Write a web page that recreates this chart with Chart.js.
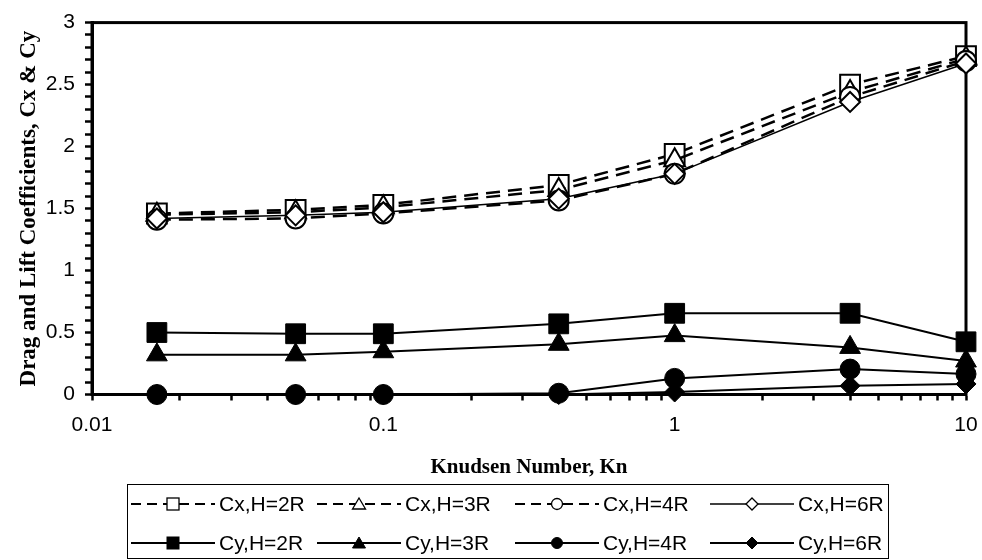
<!DOCTYPE html>
<html><head><meta charset="utf-8">
<script src="https://cdn.jsdelivr.net/npm/chart.js@4.4.0/dist/chart.umd.min.js"></script>
<style>
html,body{margin:0;padding:0;background:#fff;}
#wrap{position:relative;width:982px;height:560px;overflow:hidden;}
#c{position:absolute;left:0;top:0;}
#legend{position:absolute;left:127px;top:484px;width:762px;height:75px;border:1px solid #000;box-sizing:border-box;
 font-family:'Liberation Sans',Arial,sans-serif;font-size:21px;color:#000;
 display:grid;grid-template-columns:186px 198px 195px 176px;grid-template-rows:38px 40px;padding-left:3px;}
.item{display:flex;align-items:center;white-space:nowrap;}
.item svg{flex:none;margin-right:4px;}
</style></head>
<body>
<div id="wrap">
<canvas id="c" width="982" height="560"></canvas>
<div id="legend"></div>
</div>
<script>
// ---- data ----
const kn = [0.0167, 0.05, 0.1, 0.4, 1, 4, 10];
const cx2R = [1.46, 1.49, 1.53, 1.69, 1.94, 2.50, 2.73];
const cx3R = [1.45, 1.47, 1.51, 1.65, 1.89, 2.44, 2.71];
const cx4R = [1.41, 1.42, 1.46, 1.565, 1.78, 2.40, 2.69];
const cx6R = [1.42, 1.445, 1.47, 1.58, 1.78, 2.36, 2.67];
const cy2R = [0.50, 0.49, 0.49, 0.57, 0.655, 0.655, 0.425];
const cy3R = [0.32, 0.32, 0.345, 0.405, 0.475, 0.38, 0.27];
const cy4R = [0, 0, 0, 0.01, 0.13, 0.205, 0.165];
const cy6R = [0, 0, 0, 0, 0.02, 0.07, 0.085];
const seriesNames = ['Cx,H=2R','Cx,H=3R','Cx,H=4R','Cx,H=6R','Cy,H=2R','Cy,H=3R','Cy,H=4R','Cy,H=6R'];
const xTickLabels = ['0.01','0.1','1','10'];
const xTickValues = [0.01, 0.1, 1, 10];
const yTickLabels = ['0','0.5','1','1.5','2','2.5','3'];
const xTitle = 'Knudsen Number, Kn';
const yTitle = 'Drag and Lift Coefficients, Cx & Cy';

const seriesValues = [cx2R, cx3R, cx4R, cx6R, cy2R, cy3R, cy4R, cy6R];
const styles = [
  {dash:[14,8], shape:'rect',     fill:'#fff', r:14, lw:2.5, bw:2},
  {dash:[14,8], shape:'triangle', fill:'#fff', r:12, lw:2.5, bw:2},
  {dash:[14,8], shape:'circle',   fill:'#fff', r:10, lw:2.5, bw:2},
  {dash:[],     shape:'rectRot',  fill:'#fff', r:10, lw:1.5, bw:2},
  {dash:[],     shape:'rect',     fill:'#000', r:14, lw:2,   bw:1},
  {dash:[],     shape:'triangle', fill:'#000', r:12, lw:2,   bw:1},
  {dash:[],     shape:'circle',   fill:'#000', r:10, lw:2,   bw:1},
  {dash:[],     shape:'rectRot',  fill:'#000', r:10, lw:2,   bw:1}
];

const datasets = seriesValues.map((vals, k) => ({
  label: seriesNames[k],
  data: kn.map((x, i) => ({x: x, y: vals[i]})),
  borderColor: '#000',
  borderWidth: styles[k].lw,
  borderDash: styles[k].dash,
  pointStyle: styles[k].shape,
  pointRadius: styles[k].r,
  pointBackgroundColor: styles[k].fill,
  pointBorderColor: '#000',
  pointBorderWidth: styles[k].bw,
  pointHoverRadius: styles[k].r,
  fill: false,
  tension: 0,
  clip: false,
  order: (k < 4 ? 20 : 10) - k
}));

const framePlugin = {
  id: 'frame',
  beforeDatasetsDraw(chart) {
    const {ctx, chartArea: a} = chart;
    ctx.save();
    ctx.strokeStyle = '#000';
    ctx.lineWidth = 3;
    ctx.strokeRect(a.left, a.top, a.right - a.left, a.bottom - a.top);
    ctx.restore();
  }
};

const minorTicks = [];
[-2, -1, 0].forEach(e => { for (let m = 1; m <= 9; m++) minorTicks.push(Number((m * Math.pow(10, e)).toPrecision(6))); });
minorTicks.push(10);

new Chart(document.getElementById('c'), {
  type: 'line',
  data: {datasets},
  options: {
    responsive: false,
    animation: false,
    devicePixelRatio: 1,
    layout: {padding: {left: 15, top: 18, right: 15, bottom: 79.5}},
    plugins: {legend: {display: false}, tooltip: {enabled: false}},
    events: [],
    scales: {
      x: {
        type: 'logarithmic', min: 0.01, max: 10,
        afterBuildTicks: s => { s.ticks = minorTicks.map(v => ({value: v})); },
        afterFit: s => { s.height = 86; s.paddingLeft = 0; s.paddingRight = 0; },
        ticks: {
          autoSkip: false, maxRotation: 0, color: '#000', padding: 12,
          font: {family: "'Liberation Sans', Arial, sans-serif", size: 21},
          callback: v => { const i = xTickValues.findIndex(d => Math.abs(d - v) / d < 1e-9); return i >= 0 ? xTickLabels[i] : ''; }
        },
        grid: {drawOnChartArea: false, drawTicks: true, tickLength: 6, tickColor: '#000', tickWidth: 2.5, color: '#000'},
        border: {display: true, color: '#000', width: 3},
        title: {display: true, text: xTitle, color: '#000', padding: {top: 0, bottom: 0},
          font: {family: "'Liberation Serif', 'Times New Roman', serif", size: 21, weight: 'bold'}}
      },
      y: {
        type: 'linear', min: 0, max: 3,
        afterFit: s => { s.width = 77; },
        ticks: {
          stepSize: 0.1, autoSkip: false, color: '#000', padding: 10,
          font: {family: "'Liberation Sans', Arial, sans-serif", size: 21},
          callback: v => { const h = v * 2; return Math.abs(h - Math.round(h)) < 1e-6 ? yTickLabels[Math.round(h)] : ''; }
        },
        grid: {drawOnChartArea: false, drawTicks: true, tickLength: 7, tickColor: '#000', tickWidth: 2.5, color: '#000'},
        border: {display: true, color: '#000', width: 3},
        title: {display: true, text: yTitle, color: '#000', padding: {top: 0, bottom: 0},
          font: {family: "'Liberation Serif', 'Times New Roman', serif", size: 23, weight: 'bold'}}
      }
    }
  },
  plugins: [framePlugin]
});

// ---- HTML legend ----
function sampleSvg(st) {
  const W = 84, H = 24, cx = 42, cy = 12;
  let m = '';
  const f = st.fill, sw = st.fill === '#fff' ? 1.3 : 1;
  if (st.shape === 'rect') m = `<rect x="${cx-6}" y="${cy-6}" width="12" height="12" fill="${f}" stroke="#000" stroke-width="${sw}"/>`;
  if (st.shape === 'triangle') m = `<polygon points="${cx},${cy-6} ${cx+6.5},${cy+5} ${cx-6.5},${cy+5}" fill="${f}" stroke="#000" stroke-width="${sw}"/>`;
  if (st.shape === 'circle') m = `<circle cx="${cx}" cy="${cy}" r="5.5" fill="${f}" stroke="#000" stroke-width="${sw}"/>`;
  if (st.shape === 'rectRot') m = `<polygon points="${cx},${cy-6} ${cx+6},${cy} ${cx},${cy+6} ${cx-6},${cy}" fill="${f}" stroke="#000" stroke-width="${sw}"/>`;
  const dash = st.dash.length ? 'stroke-dasharray="10 6"' : '';
  const lw = st.dash.length ? 2 : (st.fill === '#fff' ? 1.3 : 2);
  return `<svg width="${W}" height="${H}"><line x1="0" y1="${cy}" x2="${W}" y2="${cy}" stroke="#000" stroke-width="${lw}" ${dash}/>${m}</svg>`;
}
const lg = document.getElementById('legend');
seriesNames.forEach((n, k) => {
  const d = document.createElement('div');
  d.className = 'item';
  d.innerHTML = sampleSvg(styles[k]) + '<span>' + n + '</span>';
  lg.appendChild(d);
});
</script>
</body></html>
